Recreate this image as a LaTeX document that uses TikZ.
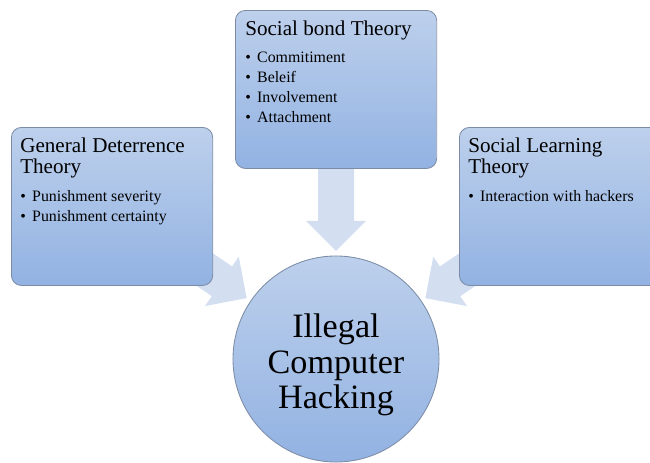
\documentclass[tikz,border=0pt]{standalone}
\usepackage{fontspec}
\setmainfont{Liberation Serif}
\usetikzlibrary{positioning,arrows.meta,backgrounds}
\definecolor{boxtop}{RGB}{189,208,236}
\definecolor{boxbottom}{RGB}{146,178,226}
\definecolor{boxline}{RGB}{124,140,166}
\definecolor{arrowfill}{RGB}{211,223,241}
\tikzset
{
    theorybox/.style = {rectangle, rounded corners=0.25cm, draw=boxline, line width=0.6pt, top color=boxtop, bottom color=boxbottom, minimum width=5.03cm, minimum height=3.95cm, anchor=north west, inner sep=0pt},
    outcome/.style   = {circle, draw=boxline, line width=0.6pt, top color=boxtop, bottom color=boxbottom, minimum size=5.15cm, inner sep=0pt},
    outcometext/.style = {inner sep=0pt, align=center, font=\fontsize{24.3}{25.2}\selectfont},
    titletext/.style = {inner sep=0pt, align=left, font=\fontsize{15}{14.9}\selectfont},
    itemtext/.style  = {inner sep=0pt, align=left, font=\fontsize{11.3}{14.2}\selectfont},
    bigarrow/.style  = {draw=arrowfill, line width=0.9cm, -{Triangle[length=0.75cm, width=1.45cm, fill=arrowfill]}, shorten >=2.7cm}
}
\newcommand{\bul}{\textbullet\hspace{4.5pt}}

\begin{document}
\begin{tikzpicture}[x=0.025cm, y=-0.025cm]
\clip (0,0) rectangle (650,462);

\node (gdt)	[theorybox]	at (11,127)	{};
\node (sbt)	[theorybox]	at (235,10)	{};
\node (slt)	[theorybox]	at (459,127)	{};
\node (hack)	[outcome]	at (336,359)	{};
\node (hackT)	[outcometext]	at ([yshift=-0.15cm]hack.center)	{Illegal\\Computer\\Hacking};

\node (gdtT)	[titletext, anchor=north west]	at ([shift={(9,11)}]gdt.north west)	{General Deterrence\\Theory};
\node (gdtI)	[itemtext, below right=0.28cm and 0cm of gdtT.south west]	{\bul Punishment severity\\\bul Punishment certainty};

\node (sbtT)	[titletext, anchor=north west]	at ([shift={(10,11)}]sbt.north west)	{Social bond Theory};
\node (sbtI)	[itemtext, below right=0.28cm and 0cm of sbtT.south west]	{\bul Commitiment\\\bul Beleif\\\bul Involvement\\\bul Attachment};

\node (sltT)	[titletext, anchor=north west]	at ([shift={(9,11)}]slt.north west)	{Social Learning\\Theory};
\node (sltI)	[itemtext, below right=0.28cm and 0cm of sltT.south west]	{\bul Interaction with hackers};

% arrows behind the boxes
\begin{scope}[on background layer]
\draw[bigarrow] (gdt.center) -- (hack.center);
\draw[bigarrow] (sbt.center) -- (hack.center);
\draw[bigarrow] (slt.center) -- (hack.center);
\end{scope}

\end{tikzpicture}
\end{document}
